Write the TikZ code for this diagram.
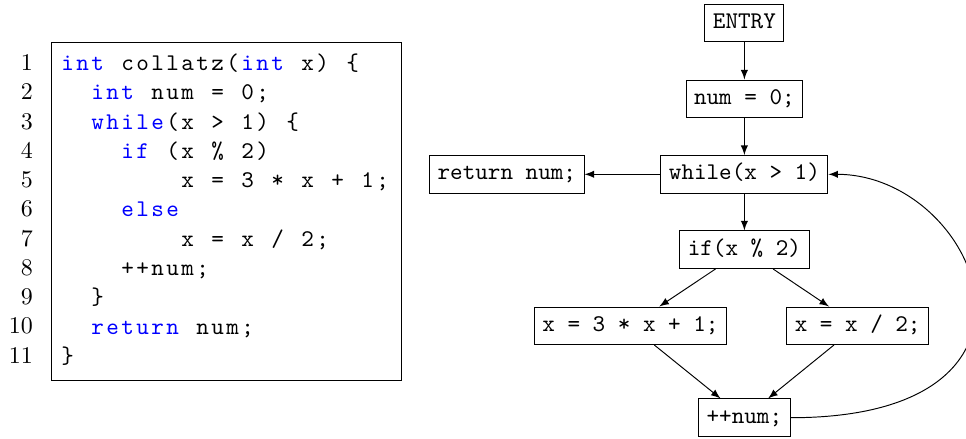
\documentclass[tikz,border=0pt]{standalone}
\usepackage{tikz}
\usetikzlibrary{calc}

\newlength\colw
\setlength\colw{6.26pt}
\newcommand\cols[1]{\colsloop#1\relax}
\def\colsloop#1{\ifx\relax#1\else\makebox[\colw]{#1}\expandafter\colsloop\fi}
\newcommand\kw[1]{\textcolor{blue}{\cols{#1}}}

\tikzset{
  block/.style={draw, font=\ttfamily, text height=6.8pt, text depth=2.2pt},
  code/.style={font=\ttfamily, inner sep=0pt, anchor=base west},
  lnum/.style={inner sep=0pt, anchor=base east}
}

\begin{document}
\begin{tikzpicture}[>=latex]
    \useasboundingbox (0,0) rectangle (14.171,6.440);

    % Listing frame and line numbers
    \draw (0.758,0.855) rectangle (5.883,5.820);
    \foreach \i in {1,...,11}
        \node[lnum] (n\i) at (0.489,{5.403-(\i-1)*0.4292}) {\i};

    % Source lines
    \node[code] (c1) at (0.876,5.403) {\kw{int}\cols{~collatz(}\kw{int}\cols{~x)~\{}};
    \node[code] (c2) at (1.316,4.974) {\kw{int}\cols{~num~=~0;}};
    \node[code] (c3) at (1.316,4.545) {\kw{while}\cols{(x~>~1)~\{}};
    \node[code] (c4) at (1.756,4.115) {\kw{if}\cols{~(x~\%~2)}};
    \node[code] (c5) at (2.636,3.686) {\cols{x~=~3~*~x~+~1;}};
    \node[code] (c6) at (1.756,3.257) {\kw{else}};
    \node[code] (c7) at (2.636,2.828) {\cols{x~=~x~/~2;}};
    \node[code] (c8) at (1.756,2.399) {\cols{++num;}};
    \node[code] (c9) at (1.316,1.969) {\cols{\}}};
    \node[code] (c10) at (1.316,1.540) {\kw{return}\cols{~num;}};
    \node[code] (c11) at (0.876,1.111) {\cols{\}}};

    % Control flow graph
    \node[block] (entry) at (10.92,6.100) {ENTRY};
    \node[block] (init) at (10.92,4.991) {num = 0;};
    \node[block] (loop) at (10.92,3.883) {while(x > 1)};
    \node[block] (ret) at (7.435,3.883) {return num;};
    \node[block] (cond) at (10.92,2.777) {if(x \% 2)};
    \node[block] (odd) at (9.249,1.661) {x = 3 * x + 1;};
    \node[block] (even) at (12.582,1.661) {x = x / 2;};
    \node[block] (inc) at (10.92,0.312) {++num;};

    \draw[->] (entry) -- (init);
    \draw[->] (init) -- (loop);
    \draw[->] (loop) -- (ret);
    \draw[->] (loop) -- (cond);
    \draw[->] (cond) -- (odd);
    \draw[->] (cond) -- (even);
    \draw[->] (odd) -- (inc);
    \draw[->] (even) -- (inc);
    % Back edge
    \draw[->] (inc.east) .. controls +(4.25,0) and +(2.19,0) .. (loop.east);
\end{tikzpicture}
\end{document}
